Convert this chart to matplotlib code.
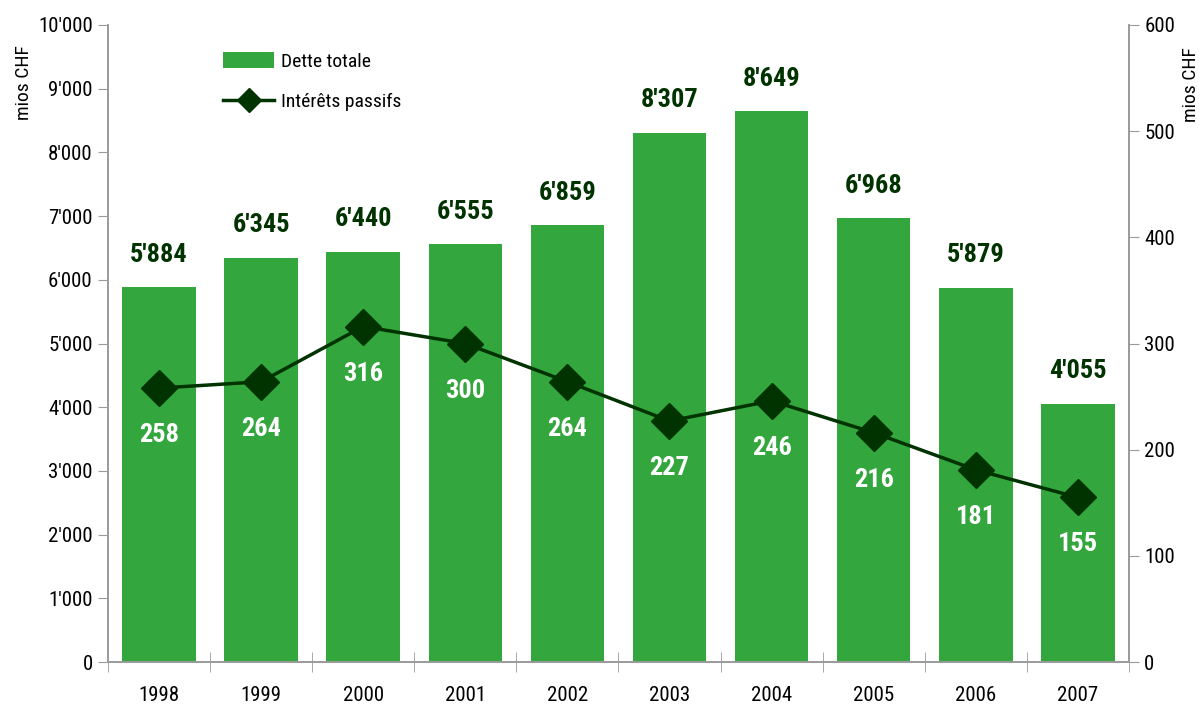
import matplotlib
matplotlib.use("Agg")
from matplotlib import pyplot as plt
from matplotlib.lines import Line2D
from matplotlib.patches import Patch
import numpy as np

plt.rcParams['font.family'] = ['Liberation Sans Narrow', 'Roboto Condensed',
                               'Liberation Sans', 'DejaVu Sans']

years = ['1998', '1999', '2000', '2001', '2002', '2003', '2004', '2005', '2006', '2007']
dette = [5884, 6345, 6440, 6555, 6859, 8307, 8649, 6968, 5879, 4055]
interets = [258, 264, 316, 300, 264, 227, 246, 216, 181, 155]

bar_col = '#34A63E'
line_col = '#003300'
axis_col = '#9a9a9a'


def fmt(v):
    return f"{v:,}".replace(",", "'")


fig = plt.figure(figsize=(11.99, 7.12), dpi=100)
ax = fig.add_axes([0.090, 0.0702, 0.8516, 0.8947])
ax2 = ax.twinx()

x = np.arange(len(years))
ax.bar(x, dette, width=0.72, color=bar_col, zorder=2)
ax.set_xlim(-0.5, len(years) - 0.5)
ax.set_ylim(0, 10000)
ax.set_yticks(np.arange(0, 10001, 1000))
ax.set_yticklabels([fmt(v) for v in range(0, 10001, 1000)], fontsize=15)
ax.set_xticks(x)
ax.set_xticklabels(years, fontsize=15)
ax.set_xticks(np.arange(-0.5, len(years), 1), minor=True)
ax.tick_params(axis='x', which='major', length=0, pad=17)
ax.tick_params(axis='x', which='minor', length=14, color=axis_col, direction='inout')
ax.tick_params(axis='y', length=7, color=axis_col, pad=4)
ax.set_ylabel('mios CHF', fontsize=14)
ax.yaxis.set_label_coords(-0.0735, 0.909)

for i, v in enumerate(dette):
    ax.text(i, v + 320, fmt(v), ha='center', va='bottom', fontsize=19,
            fontweight='bold', color=line_col)

ax2.plot(x, interets, color=line_col, lw=2.5, marker='D', markersize=18, zorder=3)
ax2.set_ylim(0, 600)
ax2.set_yticks(np.arange(0, 601, 100))
ax2.set_yticklabels([str(v) for v in range(0, 601, 100)], fontsize=15)
ax2.tick_params(axis='y', length=7, color=axis_col, pad=4)
ax2.set_ylabel('mios CHF', fontsize=14, rotation=90)
ax2.yaxis.set_label_coords(1.052, 0.906)

for i, v in enumerate(interets):
    ax2.text(i, v - 33, str(v), ha='center', va='top', fontsize=19,
             fontweight='bold', color='white')

for a in (ax, ax2):
    a.spines['top'].set_visible(False)
    for s in ('left', 'right', 'bottom'):
        a.spines[s].set_color(axis_col)
        a.spines[s].set_linewidth(1.2)

handles = [Patch(facecolor=bar_col, label='Dette totale'),
           Line2D([0], [0], color=line_col, lw=2.5, marker='D', markersize=12,
                  label='Intérêts passifs')]
ax.legend(handles=handles, loc='upper left', bbox_to_anchor=(0.096, 0.985),
          frameon=False, fontsize=14, handlelength=2.6, handleheight=0.9,
          labelspacing=1.1, handletextpad=0.35)

fig.savefig('out.png', dpi=100)
